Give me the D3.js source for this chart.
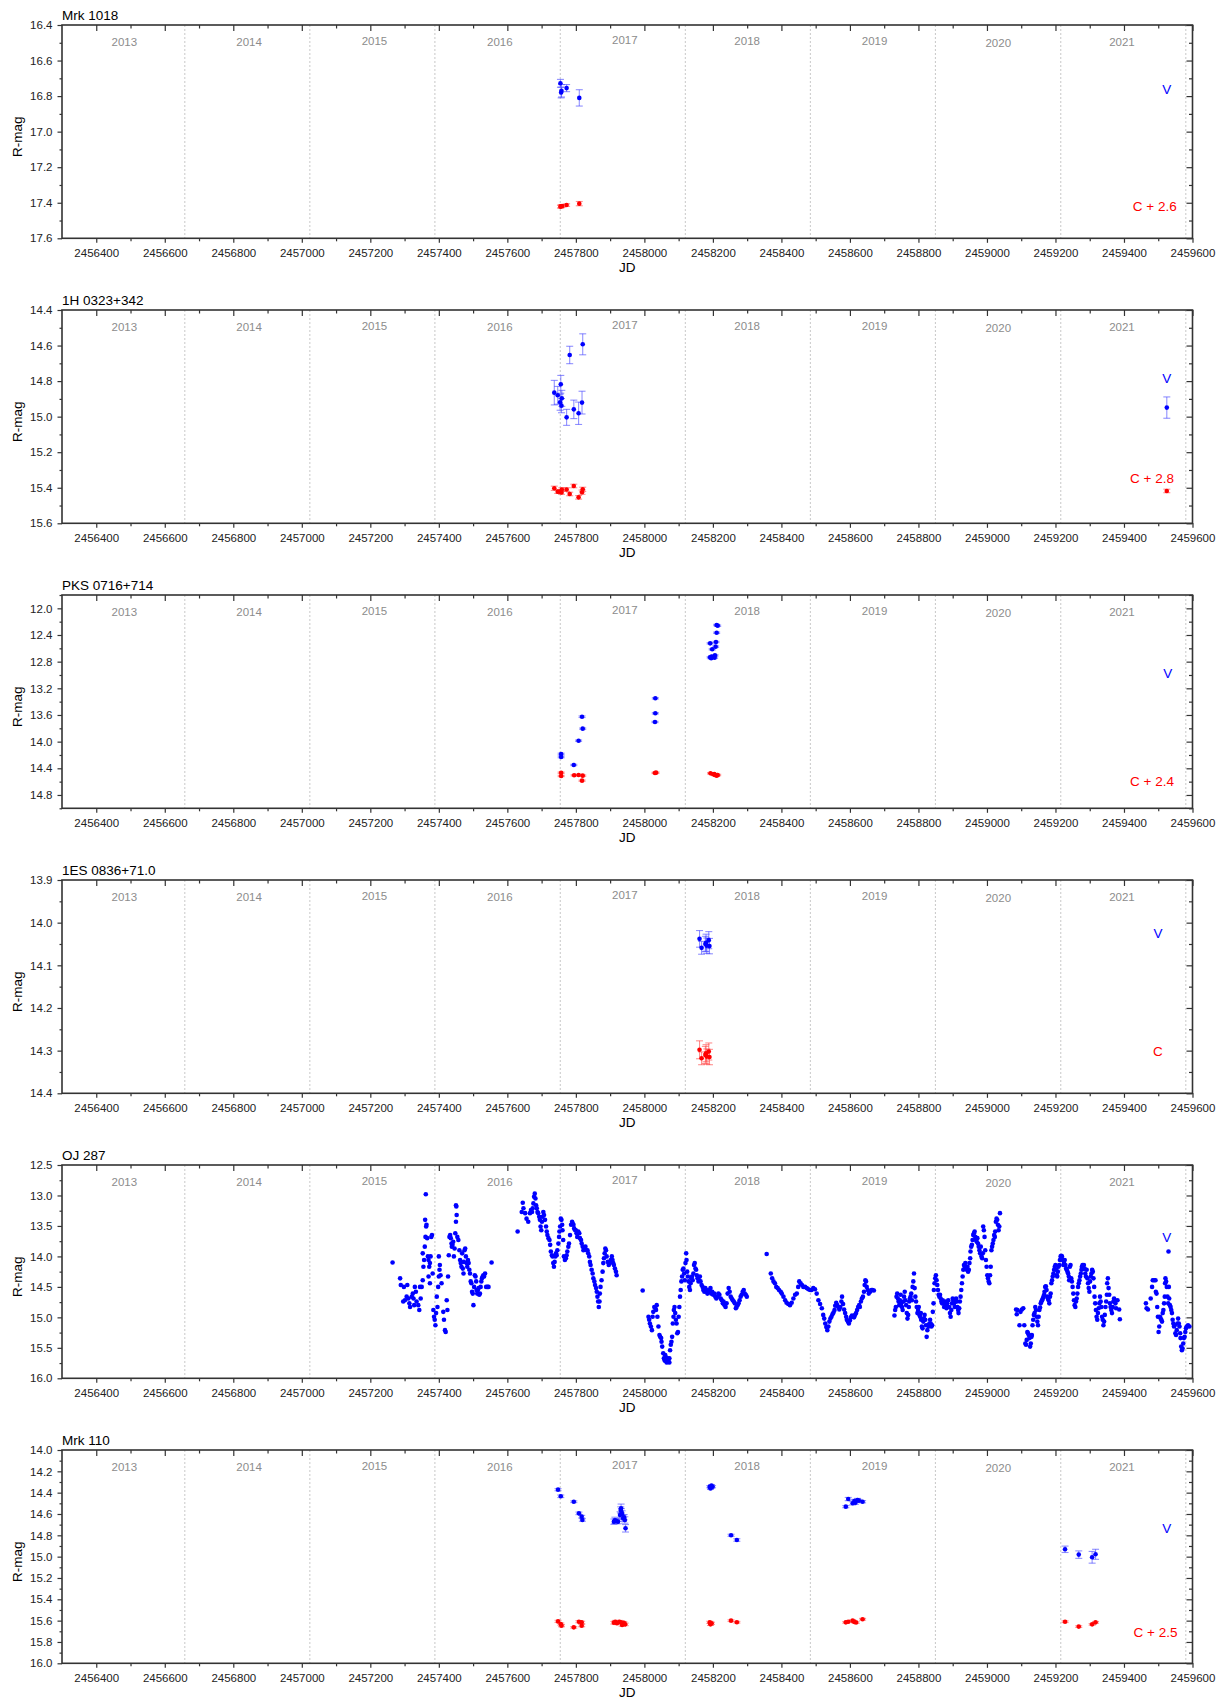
<!DOCTYPE html>
<html>
<head>
<meta charset="utf-8">
<script src="https://cdn.jsdelivr.net/npm/d3@7"></script>
<style>
  body { margin: 0; background: #fff; }
  svg { display: block; font-family: "Liberation Sans", Arial, sans-serif; }
</style>
</head>
<body>
<svg id="chart" width="1226" height="1699"></svg>
<script>
// Julian dates in the series are stored as JD - 2450000
const JD0 = 2450000;

// x axis (JD) ticks shared by every panel
const jdTicks = [2456400, 2456600, 2456800, 2457000, 2457200, 2457400, 2457600, 2457800,
  2458000, 2458200, 2458400, 2458600, 2458800, 2459000, 2459200, 2459400, 2459600];
const jdMinorTicks = [2456500, 2456700, 2456900, 2457100, 2457300, 2457500, 2457700, 2457900,
  2458100, 2458300, 2458500, 2458700, 2458900, 2459100, 2459300, 2459500];

// calendar years: JD of 1 January of each new year, and mid-year label positions
const yearStarts = [2456658.5, 2457023.5, 2457388.5, 2457754.5, 2458119.5, 2458484.5, 2458849.5, 2459215.5, 2459580.5];
const yearNames = ["2013", "2014", "2015", "2016", "2017", "2018", "2019", "2020", "2021"];
const yearMids = [2456482, 2456846, 2457212, 2457578, 2457943, 2458300, 2458672, 2459033, 2459394];
const yearLabelLift = [0, 0, 1, 0, 1.5, 1, 1, -1, 0];

// ---------- Mrk 1018 : [JD-2450000, mag, error]
const mrk1018V = [[7755, 16.728, 0.022], [7757, 16.78, 0.03], [7758, 16.77, 0.035], [7773, 16.755, 0.02], [7810, 16.81, 0.046]];
const mrk1018C = [[7755, 17.422, 0.008], [7757, 17.42, 0.008], [7760, 17.418, 0.008], [7773, 17.413, 0.007], [7810, 17.405, 0.012]];

// ---------- 1H 0323+342
const h0323V = [[7737, 14.865, 0.069], [7747, 14.88, 0.05], [7754, 14.919, 0.045], [7756, 14.818, 0.05],
  [7758, 14.938, 0.04], [7759, 14.897, 0.045], [7773, 15.004, 0.045], [7782, 14.653, 0.049],
  [7794, 14.959, 0.052], [7808, 14.981, 0.063], [7818, 14.921, 0.064], [7820, 14.593, 0.059],
  [9525, 14.949, 0.06]];
const h0323C = [[7737, 15.403, 0.012], [7747, 15.422, 0.01], [7754, 15.422, 0.01], [7758, 15.427, 0.01],
  [7759, 15.41, 0.01], [7773, 15.41, 0.01], [7782, 15.435, 0.01], [7794, 15.39, 0.01],
  [7808, 15.454, 0.01], [7818, 15.425, 0.012], [7820, 15.409, 0.012], [9525, 15.418, 0.01]];

// ---------- PKS 0716+714
const pksV = [[7757, 14.185, 0.012], [7757, 14.23, 0.012], [7794, 14.35, 0.01], [7808, 13.986, 0.01],
  [7820, 13.805, 0.01], [7818, 13.626, 0.012], [8032, 13.35, 0.01], [8032, 13.575, 0.01],
  [8031, 13.705, 0.01], [8211, 12.25, 0.01], [8214, 12.262, 0.01], [8211, 12.366, 0.01],
  [8209, 12.505, 0.01], [8208, 12.575, 0.01], [8198, 12.615, 0.01], [8192, 12.525, 0.01],
  [8206, 12.705, 0.01], [8205, 12.74, 0.01], [8195, 12.75, 0.01], [8196, 12.725, 0.01], [8192, 12.735, 0.01]];
const pksC = [[7757, 14.466, 0.01], [7757, 14.515, 0.01], [7795, 14.505, 0.01], [7808, 14.5, 0.01],
  [7820, 14.51, 0.01], [7818, 14.585, 0.01], [8031, 14.47, 0.01], [8034, 14.465, 0.01],
  [8193, 14.475, 0.01], [8201, 14.49, 0.01], [8211, 14.51, 0.01], [8214, 14.5, 0.01],
  [8206, 14.5, 0.01], [8204, 14.485, 0.01]];

// ---------- 1ES 0836+71.0
const esV = [[8161, 14.038, 0.0195], [8167, 14.059, 0.015], [8178, 14.05, 0.018], [8180, 14.047, 0.02],
  [8182, 14.054, 0.018], [8188, 14.041, 0.02], [8190, 14.055, 0.018]];
const esC = [[8161, 14.298, 0.021], [8167, 14.318, 0.015], [8178, 14.31, 0.02], [8180, 14.306, 0.02],
  [8182, 14.314, 0.018], [8188, 14.302, 0.02], [8190, 14.315, 0.018]];

// ---------- OJ 287 : [JD-2450000, mag]
const oj287V = [
  // 2015-2016 season
  [7265, 14.10], [7287, 14.36], [7289, 14.47], [7298, 14.50], [7308, 14.47], [7296, 14.74], [7301, 14.72],
  [7306, 14.66], [7311, 14.69], [7314, 14.77], [7316, 14.83], [7321, 14.66], [7324, 14.61], [7326, 14.69],
  [7328, 14.80], [7330, 14.50], [7333, 14.58], [7335, 14.74], [7340, 14.80], [7343, 14.88], [7345, 14.50],
  [7347, 14.69], [7350, 14.50], [7353, 14.39], [7355, 14.17], [7353, 13.95], [7357, 14.06], [7359, 13.84],
  [7361, 13.68], [7363, 13.51], [7364, 13.48], [7360, 13.40], [7362, 12.98], [7366, 13.70], [7368, 14.00],
  [7370, 14.06], [7372, 14.17], [7374, 14.11], [7376, 14.00], [7378, 13.68], [7380, 13.65], [7382, 14.28],
  [7370, 14.33], [7374, 14.44], [7384, 14.88], [7386, 14.99], [7388, 15.04], [7390, 15.13], [7392, 14.93],
  [7394, 14.66], [7396, 14.83], [7398, 14.50], [7400, 14.33], [7402, 14.22], [7400, 14.00], [7403, 14.14],
  [7405, 14.31], [7408, 14.44], [7413, 14.91], [7415, 15.04], [7418, 15.21], [7420, 15.24], [7423, 14.72],
  [7425, 14.88], [7427, 14.33], [7429, 13.98], [7431, 13.68], [7433, 13.65], [7435, 13.70], [7437, 13.79],
  [7438, 13.84], [7440, 13.81], [7442, 13.76], [7444, 14.00], [7446, 13.87], [7448, 13.62], [7450, 13.43],
  [7452, 13.32], [7451, 13.18], [7450, 13.16], [7454, 13.68], [7457, 13.73], [7460, 13.90], [7462, 14.06],
  [7464, 14.11], [7466, 14.17], [7468, 13.95], [7470, 14.20], [7472, 14.28], [7473, 14.09], [7475, 13.90],
  [7477, 13.87], [7479, 14.00], [7481, 14.11], [7483, 14.17], [7485, 14.06], [7487, 14.11], [7489, 14.22],
  [7491, 14.28], [7493, 14.41], [7495, 14.44], [7497, 14.58], [7499, 14.61], [7501, 14.80], [7503, 14.50],
  [7505, 14.31], [7507, 14.33], [7509, 14.41], [7510, 14.55], [7512, 14.61], [7514, 14.55], [7516, 14.52],
  [7518, 14.63], [7520, 14.61], [7522, 14.50], [7524, 14.41], [7526, 14.36], [7528, 14.33], [7530, 14.31],
  [7532, 14.33], [7535, 14.28], [7538, 14.50], [7542, 14.50], [7545, 14.50], [7554, 14.10],
  // 2016-2017 season
  [7630, 13.59], [7642, 13.27], [7645, 13.12], [7647, 13.21], [7652, 13.29], [7656, 13.38], [7661, 13.43],
  [7666, 13.29], [7669, 13.24], [7672, 13.27], [7674, 13.21], [7676, 13.13], [7678, 13.02], [7680, 12.97],
  [7682, 13.05], [7684, 13.16], [7686, 13.21], [7688, 13.27], [7690, 13.29], [7693, 13.35], [7695, 13.40],
  [7697, 13.51], [7699, 13.57], [7701, 13.43], [7703, 13.35], [7705, 13.27], [7707, 13.32], [7710, 13.40],
  [7713, 13.51], [7715, 13.59], [7717, 13.65], [7720, 13.70], [7723, 13.73], [7725, 13.81], [7727, 13.92],
  [7730, 13.98], [7732, 14.00], [7734, 14.11], [7736, 14.17], [7738, 14.09], [7740, 14.00], [7742, 13.95],
  [7744, 13.98], [7746, 13.90], [7749, 13.79], [7751, 13.68], [7752, 13.59], [7754, 13.51], [7756, 13.38],
  [7758, 13.40], [7760, 13.48], [7761, 13.57], [7763, 13.73], [7765, 14.00], [7768, 14.06], [7771, 14.03],
  [7773, 13.98], [7775, 13.92], [7778, 13.84], [7780, 13.79], [7783, 13.65], [7786, 13.48], [7789, 13.43],
  [7791, 13.46], [7793, 13.48], [7795, 13.54], [7798, 13.57], [7800, 13.57], [7802, 13.62], [7804, 13.68],
  [7807, 13.59], [7810, 13.62], [7812, 13.70], [7815, 13.73], [7817, 13.79], [7820, 13.84], [7822, 13.90],
  [7825, 13.87], [7828, 13.84], [7831, 13.90], [7834, 13.90], [7836, 13.95], [7839, 14.00], [7841, 14.09],
  [7843, 14.14], [7846, 14.22], [7849, 14.28], [7851, 14.36], [7854, 14.41], [7856, 14.47], [7859, 14.52],
  [7861, 14.58], [7863, 14.66], [7865, 14.74], [7867, 14.83], [7869, 14.74], [7870, 14.61], [7872, 14.50],
  [7875, 14.39], [7878, 14.25], [7880, 14.11], [7882, 14.03], [7884, 13.95], [7886, 13.87], [7888, 13.90],
  [7890, 14.00], [7893, 14.09], [7896, 14.14], [7899, 14.11], [7902, 14.06], [7905, 14.00], [7907, 14.06],
  [7909, 14.11], [7911, 14.14], [7914, 14.20], [7917, 14.25], [7919, 14.31],
  // 2017-2018 season
  [7995, 14.56], [8012, 14.99], [8014, 15.04], [8016, 15.10], [8019, 15.15], [8022, 15.21], [8024, 14.99],
  [8026, 14.91], [8029, 14.83], [8032, 14.85], [8034, 14.88], [8036, 14.80], [8038, 14.99], [8041, 15.15],
  [8044, 15.29], [8046, 15.32], [8049, 15.34], [8050, 15.40], [8052, 15.48], [8055, 15.59], [8057, 15.67],
  [8059, 15.70], [8060, 15.71], [8061, 15.62], [8063, 15.67], [8065, 15.70], [8065, 15.74], [8067, 15.73],
  [8068, 15.67], [8070, 15.70], [8070, 15.73], [8073, 15.67], [8073, 15.74], [8075, 15.54], [8077, 15.45],
  [8079, 15.40], [8081, 15.32], [8083, 15.10], [8085, 14.99], [8086, 14.88], [8088, 14.83], [8090, 14.93],
  [8092, 15.04], [8094, 15.10], [8096, 15.26], [8098, 15.24], [8100, 14.99], [8102, 14.83], [8104, 14.66],
  [8106, 14.55], [8108, 14.41], [8110, 14.33], [8112, 14.22], [8114, 14.20], [8116, 14.28], [8118, 14.39],
  [8120, 14.11], [8122, 13.95], [8123, 14.06], [8125, 14.25], [8127, 14.33], [8129, 14.41], [8131, 14.50],
  [8133, 14.55], [8135, 14.44], [8137, 14.36], [8139, 14.33], [8141, 14.39], [8143, 14.28], [8145, 14.14],
  [8147, 14.11], [8149, 14.20], [8151, 14.22], [8153, 14.31], [8155, 14.36], [8158, 14.41], [8160, 14.39],
  [8162, 14.33], [8164, 14.41], [8167, 14.47], [8170, 14.50], [8172, 14.55], [8175, 14.58], [8178, 14.52],
  [8181, 14.55], [8184, 14.61], [8187, 14.58], [8190, 14.55], [8193, 14.52], [8195, 14.61], [8198, 14.58],
  [8201, 14.63], [8204, 14.61], [8207, 14.66], [8210, 14.69], [8213, 14.66], [8216, 14.61], [8219, 14.63],
  [8223, 14.69], [8226, 14.72], [8229, 14.77], [8231, 14.74], [8234, 14.80], [8237, 14.83], [8240, 14.77],
  [8243, 14.61], [8246, 14.52], [8249, 14.58], [8252, 14.66], [8255, 14.69], [8258, 14.72], [8261, 14.74],
  [8264, 14.77], [8267, 14.85], [8269, 14.83], [8272, 14.80], [8275, 14.77], [8278, 14.72], [8281, 14.66],
  [8284, 14.63], [8287, 14.58], [8290, 14.55], [8293, 14.61], [8296, 14.63], [8299, 14.66],
  // 2018-2019 season
  [8357, 13.96], [8369, 14.28], [8373, 14.36], [8377, 14.41], [8381, 14.44], [8385, 14.50], [8389, 14.52],
  [8393, 14.55], [8398, 14.58], [8401, 14.61], [8406, 14.66], [8411, 14.72], [8415, 14.76], [8420, 14.78],
  [8425, 14.80], [8430, 14.76], [8435, 14.69], [8440, 14.63], [8445, 14.61], [8449, 14.50], [8452, 14.41],
  [8456, 14.44], [8460, 14.47], [8464, 14.50], [8469, 14.50], [8474, 14.52], [8479, 14.54], [8484, 14.55],
  [8488, 14.55], [8493, 14.52], [8498, 14.54], [8503, 14.61], [8508, 14.72], [8513, 14.78], [8518, 14.85],
  [8522, 14.96], [8525, 15.02], [8528, 15.10], [8531, 15.16], [8534, 15.21], [8537, 15.15], [8540, 15.07],
  [8543, 15.02], [8546, 14.99], [8549, 14.95], [8552, 14.92], [8555, 14.88], [8557, 14.81], [8560, 14.76],
  [8563, 14.80], [8566, 14.83], [8569, 14.87], [8572, 14.83], [8575, 14.74], [8577, 14.66], [8580, 14.78],
  [8583, 14.87], [8586, 14.93], [8589, 14.99], [8591, 15.04], [8594, 15.07], [8597, 15.10], [8600, 15.05],
  [8603, 15.00], [8606, 14.97], [8609, 14.99], [8612, 15.00], [8615, 14.96], [8618, 14.93], [8621, 14.88],
  [8624, 14.83], [8627, 14.80], [8629, 14.83], [8632, 14.74], [8635, 14.69], [8638, 14.66], [8641, 14.58],
  [8643, 14.47], [8645, 14.39], [8647, 14.41], [8649, 14.50], [8652, 14.55], [8655, 14.61], [8659, 14.58],
  [8663, 14.55], [8666, 14.55], [8670, 14.56],
  // 2019-2020 season
  [8730, 14.97], [8732, 14.88], [8734, 14.83], [8736, 14.66], [8738, 14.61], [8740, 14.69], [8742, 14.74],
  [8744, 14.80], [8746, 14.72], [8748, 14.63], [8750, 14.77], [8752, 14.83], [8754, 14.88], [8756, 14.74],
  [8758, 14.66], [8760, 14.58], [8762, 14.72], [8764, 14.80], [8766, 14.93], [8768, 15.02], [8770, 14.96],
  [8772, 14.83], [8773, 14.74], [8775, 14.69], [8777, 14.66], [8779, 14.61], [8781, 14.72], [8783, 14.50],
  [8785, 14.41], [8787, 14.28], [8789, 14.52], [8791, 14.66], [8793, 14.74], [8795, 14.83], [8797, 14.93],
  [8799, 14.88], [8801, 14.83], [8803, 14.96], [8805, 14.99], [8807, 14.93], [8808, 15.04], [8810, 15.15],
  [8812, 15.18], [8814, 15.07], [8816, 15.02], [8818, 14.96], [8820, 15.04], [8822, 15.13], [8824, 15.32],
  [8826, 15.21], [8828, 15.13], [8830, 15.15], [8832, 15.10], [8834, 15.04], [8836, 15.10], [8838, 15.15],
  [8840, 15.13], [8842, 14.91], [8844, 14.77], [8845, 14.55], [8847, 14.44], [8849, 14.36], [8851, 14.31],
  [8853, 14.39], [8855, 14.47], [8857, 14.55], [8859, 14.63], [8861, 14.66], [8863, 14.63], [8865, 14.69],
  [8867, 14.74], [8869, 14.77], [8871, 14.72], [8873, 14.77], [8875, 14.83], [8877, 14.77], [8879, 14.74],
  [8880, 14.80], [8882, 14.85], [8884, 14.77], [8887, 14.72], [8890, 14.83], [8892, 14.93], [8894, 14.99],
  [8896, 14.88], [8898, 14.77], [8900, 14.69], [8902, 14.72], [8904, 14.77], [8906, 14.83], [8908, 14.74],
  [8910, 14.69], [8912, 14.74], [8914, 14.83], [8916, 14.88], [8917, 14.93], [8919, 14.85], [8921, 14.74],
  [8923, 14.66], [8925, 14.55], [8927, 14.44], [8929, 14.33], [8931, 14.22], [8933, 14.14], [8935, 14.17],
  [8937, 14.11], [8939, 14.20], [8941, 14.22], [8943, 14.17], [8945, 14.25], [8947, 14.22], [8949, 14.11],
  [8951, 14.03], [8952, 13.92], [8954, 13.84], [8956, 13.81], [8958, 13.73], [8960, 13.65], [8962, 13.62],
  [8964, 13.59], [8966, 13.68], [8968, 13.73], [8970, 13.76], [8972, 13.70], [8974, 13.79], [8976, 13.84],
  [8978, 13.90], [8980, 13.95], [8982, 13.84], [8984, 14.00], [8986, 14.03], [8988, 13.95], [8989, 13.51],
  [8991, 13.57], [8993, 13.68], [8995, 13.90], [8997, 14.06], [8999, 14.17], [9001, 14.31], [9003, 14.36],
  [9005, 14.41], [9007, 14.44], [9009, 14.31], [9011, 14.17], [9013, 13.90], [9015, 13.84], [9017, 13.79],
  [9019, 13.73], [9021, 13.65], [9023, 13.68], [9024, 13.59], [9026, 13.43], [9028, 13.38], [9030, 13.40],
  [9032, 13.48], [9034, 13.57], [9036, 13.51], [9038, 13.29],
  // 2020-2021 season
  [9085, 14.87], [9087, 14.95], [9089, 14.88], [9095, 15.13], [9098, 14.91], [9102, 14.87], [9106, 14.85],
  [9109, 15.13], [9112, 15.43], [9114, 15.45], [9116, 15.37], [9118, 15.24], [9120, 15.26], [9122, 15.29],
  [9124, 15.34], [9126, 15.48], [9128, 15.43], [9130, 15.32], [9131, 15.29], [9133, 15.13], [9135, 15.04],
  [9137, 14.96], [9139, 14.93], [9141, 14.83], [9143, 14.88], [9145, 14.99], [9147, 15.07], [9149, 15.13],
  [9151, 14.99], [9153, 14.88], [9155, 14.84], [9157, 14.77], [9159, 14.74], [9161, 14.72], [9163, 14.69],
  [9165, 14.66], [9167, 14.63], [9168, 14.58], [9170, 14.50], [9172, 14.49], [9174, 14.55], [9176, 14.66],
  [9178, 14.69], [9180, 14.72], [9182, 14.77], [9184, 14.66], [9186, 14.61], [9188, 14.44], [9190, 14.39],
  [9192, 14.33], [9194, 14.28], [9196, 14.22], [9198, 14.17], [9200, 14.14], [9202, 14.22], [9204, 14.31],
  [9205, 14.33], [9207, 14.25], [9209, 14.17], [9211, 14.14], [9213, 14.06], [9215, 14.00], [9217, 13.99],
  [9219, 14.00], [9221, 14.06], [9223, 14.14], [9225, 14.11], [9227, 14.06], [9229, 14.14], [9231, 14.20],
  [9233, 14.22], [9235, 14.25], [9237, 14.28], [9239, 14.33], [9240, 14.39], [9242, 14.17], [9244, 14.14],
  [9246, 14.36], [9248, 14.41], [9250, 14.50], [9252, 14.61], [9254, 14.72], [9256, 14.80], [9258, 14.83],
  [9260, 14.74], [9262, 14.69], [9264, 14.61], [9266, 14.50], [9268, 14.44], [9270, 14.39], [9272, 14.33],
  [9274, 14.28], [9276, 14.22], [9277, 14.17], [9279, 14.14], [9281, 14.20], [9283, 14.14], [9285, 14.20],
  [9287, 14.28], [9289, 14.33], [9291, 14.22], [9293, 14.36], [9295, 14.44], [9297, 14.52], [9299, 14.58],
  [9301, 14.41], [9303, 14.33], [9305, 14.28], [9307, 14.22], [9309, 14.25], [9311, 14.36], [9313, 14.50],
  [9314, 14.66], [9316, 14.77], [9318, 14.88], [9320, 14.99], [9322, 15.04], [9324, 14.93], [9326, 14.85],
  [9328, 14.77], [9330, 14.66], [9332, 14.74], [9334, 14.83], [9336, 14.99], [9338, 15.04], [9340, 15.13],
  [9342, 15.07], [9344, 14.96], [9346, 14.83], [9348, 14.74], [9350, 14.63], [9351, 14.44], [9353, 14.36],
  [9355, 14.52], [9357, 14.63], [9359, 14.77], [9361, 14.83], [9363, 14.88], [9365, 14.93], [9367, 14.83],
  [9369, 14.74], [9371, 14.69], [9373, 14.72], [9375, 14.77], [9377, 14.85], [9381, 14.72], [9386, 14.87],
  [9388, 15.03],
  // 2021-2022 season
  [9464, 14.77], [9466, 14.85], [9470, 14.87], [9478, 14.69], [9482, 14.50], [9484, 14.39], [9488, 14.39],
  [9492, 14.39], [9493, 14.58], [9495, 14.61], [9497, 14.83], [9499, 14.99], [9501, 15.24], [9503, 15.15],
  [9505, 14.99], [9507, 15.02], [9509, 15.04], [9511, 15.07], [9513, 14.93], [9515, 14.88], [9517, 14.77],
  [9519, 14.66], [9520, 14.44], [9521, 14.36], [9523, 14.41], [9525, 14.50], [9527, 14.66], [9529, 14.77],
  [9530, 13.92], [9531, 14.50], [9532, 14.69], [9534, 14.80], [9536, 14.83], [9538, 14.88], [9540, 14.93],
  [9542, 15.04], [9544, 15.10], [9546, 15.15], [9548, 15.13], [9550, 15.26], [9552, 15.29], [9554, 15.21],
  [9556, 15.10], [9558, 15.02], [9560, 15.10], [9562, 15.15], [9564, 15.26], [9565, 15.34], [9567, 15.48],
  [9569, 15.54], [9571, 15.51], [9573, 15.43], [9575, 15.34], [9577, 15.32], [9579, 15.24], [9581, 15.18],
  [9583, 15.15], [9587, 15.13], [9591, 15.15]
];

// ---------- Mrk 110
const mrk110V = [[7748, 14.372, 0.01], [7756, 14.434, 0.012], [7794, 14.485, 0.008], [7809, 14.594, 0.012],
  [7817, 14.625, 0.012], [7819, 14.656, 0.012],
  [7911, 14.672, 0.025], [7914, 14.66, 0.03], [7917, 14.663, 0.02], [7923, 14.672, 0.02], [7929, 14.609, 0.03],
  [7931, 14.563, 0.03], [7932, 14.547, 0.04], [7933, 14.58, 0.03], [7935, 14.6, 0.03], [7938, 14.64, 0.03],
  [7941, 14.63, 0.025], [7943, 14.656, 0.03], [7945, 14.734, 0.035],
  [8191, 14.344, 0.01], [8193, 14.36, 0.01], [8196, 14.334, 0.01], [8199, 14.344, 0.01], [8194, 14.35, 0.01],
  [8253, 14.8, 0.01], [8270, 14.844, 0.012],
  [8588, 14.531, 0.01], [8595, 14.46, 0.015], [8608, 14.5, 0.015], [8613, 14.478, 0.015], [8616, 14.494, 0.015],
  [8622, 14.469, 0.015], [8626, 14.475, 0.012], [8637, 14.485, 0.01],
  [9228, 14.931, 0.03], [9268, 14.981, 0.035], [9307, 15.006, 0.055], [9317, 14.978, 0.047]];
const mrk110C = [[7748, 15.607, 0.01], [7756, 15.632, 0.01], [7758, 15.647, 0.01], [7794, 15.663, 0.008],
  [7809, 15.61, 0.01], [7817, 15.616, 0.01], [7817, 15.647, 0.01],
  [7911, 15.62, 0.012], [7915, 15.61, 0.012], [7920, 15.625, 0.012], [7927, 15.61, 0.012], [7931, 15.615, 0.012],
  [7935, 15.64, 0.012], [7940, 15.62, 0.012], [7944, 15.635, 0.012],
  [8191, 15.616, 0.01], [8193, 15.635, 0.01], [8196, 15.625, 0.01], [8253, 15.6, 0.008], [8270, 15.615, 0.008],
  [8588, 15.616, 0.008], [8595, 15.61, 0.008], [8608, 15.6, 0.008], [8613, 15.612, 0.008], [8618, 15.618, 0.008],
  [8637, 15.587, 0.008],
  [9228, 15.61, 0.008], [9268, 15.656, 0.008], [9307, 15.635, 0.008], [9317, 15.616, 0.008]];

// ---------- panel titles, magnitude ranges and ticks
const panelTitles = ["Mrk 1018", "1H 0323+342", "PKS 0716+714", "1ES 0836+71.0", "OJ 287", "Mrk 110"];
const magDomains = [[16.4, 17.6], [14.4, 15.6], [11.8, 15.0], [13.9, 14.4], [12.5, 16.0], [14.0, 16.0]];
const magTicks = [
  [16.4, 16.6, 16.8, 17.0, 17.2, 17.4, 17.6],
  [14.4, 14.6, 14.8, 15.0, 15.2, 15.4, 15.6],
  [12.0, 12.4, 12.8, 13.2, 13.6, 14.0, 14.4, 14.8],
  [13.9, 14.0, 14.1, 14.2, 14.3, 14.4],
  [12.5, 13.0, 13.5, 14.0, 14.5, 15.0, 15.5, 16.0],
  [14.0, 14.2, 14.4, 14.6, 14.8, 15.0, 15.2, 15.4, 15.6, 15.8, 16.0]];
const magMinorTicks = [
  [16.5, 16.7, 16.9, 17.1, 17.3, 17.5],
  [14.5, 14.7, 14.9, 15.1, 15.3, 15.5],
  [11.8, 12.2, 12.6, 13.0, 13.4, 13.8, 14.2, 14.6, 15.0],
  [13.95, 14.05, 14.15, 14.25, 14.35],
  [12.75, 13.25, 13.75, 14.25, 14.75, 15.25, 15.75],
  [14.1, 14.3, 14.5, 14.7, 14.9, 15.1, 15.3, 15.5, 15.7, 15.9]];
const variableSeries = [mrk1018V, h0323V, pksV, esV, oj287V, mrk110V];
const comparisonSeries = [mrk1018C, h0323C, pksC, esC, null, mrk110C];
const comparisonNames = ["C + 2.6", "C + 2.8", "C + 2.4", "C", null, "C + 2.5"];
// where the "V" and comparison-star tags sit, as [JD, mag]
const vTagAt = [[2459525, 16.76], [2459525, 14.785], [2459528, 12.97], [2459499, 14.026], [2459525, 13.68], [2459525, 14.731]];
const cTagAt = [[2459490, 17.42], [2459482, 15.345], [2459482, 14.59], [2459499, 14.302], null, [2459492, 15.707]];

// ---------- layout
const plotLeft = 62, plotRight = 1192.5;
const firstTop = 25, panelStep = 285, plotH = 213.3;
const BLUE = "#0000ff", RED = "#ff0000";
const BLUE_BAR = "rgba(70,70,255,0.6)", RED_BAR = "rgba(255,70,70,0.6)";
const AXIS = "#333";

const svg = d3.select("#chart");
const x = d3.scaleLinear().domain([2456300, 2459600]).range([plotLeft, plotRight]);
const fmtJD = d3.format("d");
const fmtMag = d3.format(".1f");

function styleAxis(g) {
  g.select(".domain").remove();
  g.selectAll(".tick line").attr("stroke", AXIS).attr("stroke-width", 1.2);
  g.selectAll(".tick text").attr("fill", "#222").attr("font-size", "11.5px")
    .attr("font-family", "'Liberation Sans', Arial, sans-serif");
}

function drawSeries(g, y, data, dotColor, barColor, withBars) {
  const pts = data.map(d => ({ px: x(JD0 + d[0]), py: y(d[1]), lo: d.length > 2 ? y(d[1] - d[2]) : null, hi: d.length > 2 ? y(d[1] + d[2]) : null }));
  if (withBars) {
    const bars = g.append("g").attr("stroke", barColor).attr("stroke-width", 1.1).attr("fill", "none");
    pts.forEach(p => {
      bars.append("line").attr("x1", p.px).attr("x2", p.px).attr("y1", p.lo).attr("y2", p.hi);
      bars.append("line").attr("x1", p.px - 3.5).attr("x2", p.px + 3.5).attr("y1", p.lo).attr("y2", p.lo);
      bars.append("line").attr("x1", p.px - 3.5).attr("x2", p.px + 3.5).attr("y1", p.hi).attr("y2", p.hi);
    });
  }
  g.append("g").selectAll("circle").data(pts).join("circle")
    .attr("cx", p => p.px).attr("cy", p => p.py).attr("r", 2.3).attr("fill", dotColor);
}

panelTitles.forEach((title, i) => {
  const top = firstTop + i * panelStep;
  const bottom = top + plotH;
  const y = d3.scaleLinear().domain(magDomains[i]).range([top, bottom]);
  const g = svg.append("g");

  // year boundaries
  g.append("g").selectAll("line").data(yearStarts).join("line")
    .attr("x1", d => x(d)).attr("x2", d => x(d)).attr("y1", top).attr("y2", bottom)
    .attr("stroke", "#c8c8c8").attr("stroke-width", 1).attr("stroke-dasharray", "2,2");

  // year names
  g.append("g").selectAll("text").data(yearNames).join("text")
    .attr("x", (d, k) => x(yearMids[k])).attr("y", (d, k) => top + 20.5 - yearLabelLift[k])
    .attr("text-anchor", "middle").attr("font-size", "11.5px").attr("fill", "#8c8c8c").text(d => d);

  // axes: major and minor ticks, outward on bottom/left, inward on top/right
  g.append("g").attr("transform", `translate(0,${bottom})`)
    .call(d3.axisBottom(x).tickValues(jdTicks).tickSize(4.5).tickPadding(6.5).tickFormat(fmtJD)).call(styleAxis);
  g.append("g").attr("transform", `translate(0,${bottom})`)
    .call(d3.axisBottom(x).tickValues(jdMinorTicks).tickSize(3).tickFormat("")).call(styleAxis);
  g.append("g").attr("transform", `translate(0,${top})`)
    .call(d3.axisTop(x).tickValues(jdTicks).tickSize(-6).tickFormat("")).call(styleAxis);
  g.append("g").attr("transform", `translate(0,${top})`)
    .call(d3.axisTop(x).tickValues(jdMinorTicks).tickSize(-3.5).tickFormat("")).call(styleAxis);
  g.append("g").attr("transform", `translate(${plotLeft},0)`)
    .call(d3.axisLeft(y).tickValues(magTicks[i]).tickSize(4.5).tickPadding(5).tickFormat(fmtMag)).call(styleAxis);
  g.append("g").attr("transform", `translate(${plotLeft},0)`)
    .call(d3.axisLeft(y).tickValues(magMinorTicks[i]).tickSize(2.5).tickFormat("")).call(styleAxis);
  g.append("g").attr("transform", `translate(${plotRight},0)`)
    .call(d3.axisRight(y).tickValues(magTicks[i]).tickSize(-6).tickFormat("")).call(styleAxis);
  g.append("g").attr("transform", `translate(${plotRight},0)`)
    .call(d3.axisRight(y).tickValues(magMinorTicks[i]).tickSize(-3.5).tickFormat("")).call(styleAxis);

  // frame
  g.append("rect").attr("x", plotLeft).attr("y", top).attr("width", plotRight - plotLeft).attr("height", plotH)
    .attr("fill", "none").attr("stroke", AXIS).attr("stroke-width", 1.6);

  // data
  if (comparisonSeries[i]) drawSeries(g, y, comparisonSeries[i], RED, RED_BAR, true);
  drawSeries(g, y, variableSeries[i], BLUE, BLUE_BAR, i !== 4);

  // series tags
  g.append("text").attr("x", x(vTagAt[i][0])).attr("y", y(vTagAt[i][1])).attr("dy", "0.35em")
    .attr("text-anchor", "middle").attr("font-size", "13.5px").attr("fill", BLUE).text("V");
  if (comparisonNames[i]) {
    g.append("text").attr("x", x(cTagAt[i][0])).attr("y", y(cTagAt[i][1])).attr("dy", "0.35em")
      .attr("text-anchor", "middle").attr("font-size", "13.5px").attr("fill", RED).text(comparisonNames[i]);
  }

  // titles
  g.append("text").attr("x", plotLeft).attr("y", top - 5).attr("font-size", "13.5px").attr("fill", "#000").text(title);
  g.append("text").attr("transform", `translate(17,${top + plotH / 2 + 5}) rotate(-90)`).attr("dy", "0.35em")
    .attr("text-anchor", "middle").attr("font-size", "13.5px").attr("fill", "#000").text("R-mag");
  g.append("text").attr("x", (plotLeft + plotRight) / 2).attr("y", bottom + 33.7)
    .attr("text-anchor", "middle").attr("font-size", "13.5px").attr("fill", "#000").text("JD");
});
</script>
</body>
</html>
